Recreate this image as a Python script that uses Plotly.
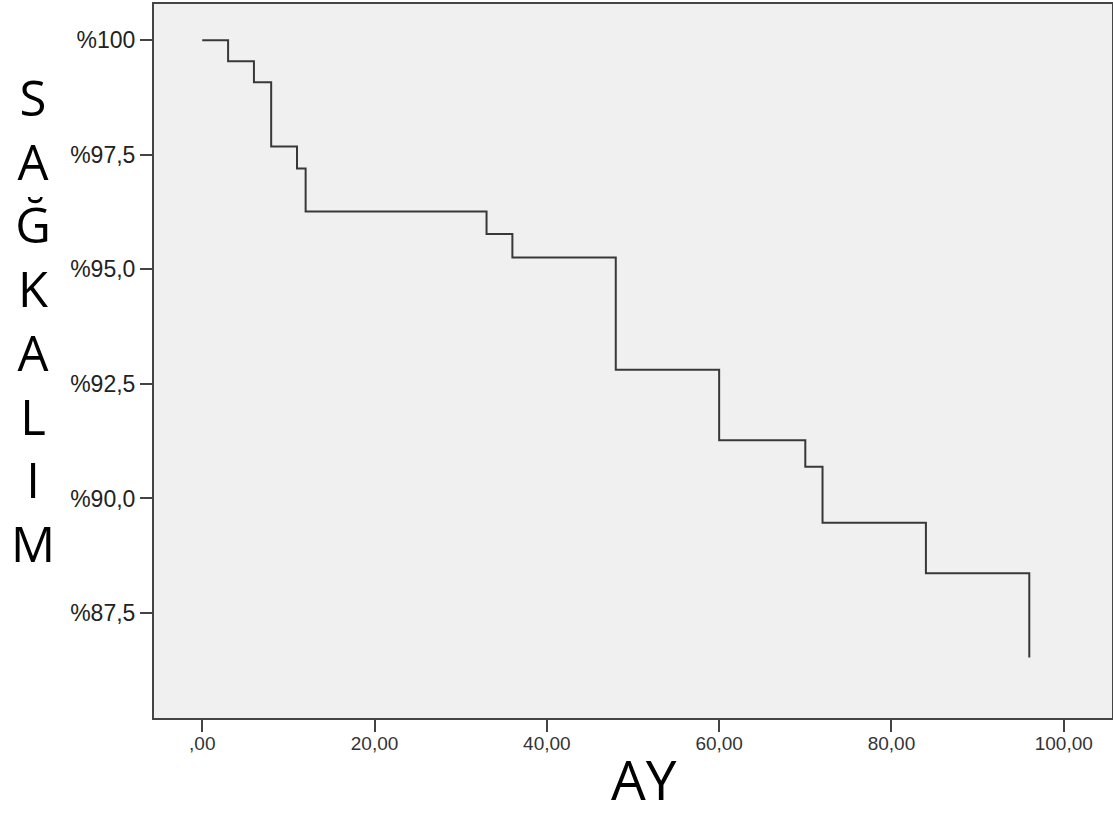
import plotly.graph_objects as go

# Kaplan-Meier step data (months, survival %)
months = [0, 3, 6, 8, 11, 12, 33, 36, 48, 60, 70, 72, 84, 96]
survival = [100, 99.54, 99.08, 97.68, 97.20, 96.26, 95.77, 95.26, 92.81, 91.27, 90.69, 89.47, 88.37, 86.53]

x_tick_vals = [0, 20, 40, 60, 80, 100]
x_tick_text = [",00", "20,00", "40,00", "60,00", "80,00", "100,00"]
y_tick_vals = [100, 97.5, 95.0, 92.5, 90.0, 87.5]
y_tick_text = ["%100", "%97,5", "%95,0", "%92,5", "%90,0", "%87,5"]

y_label_letters = ["S", "A", "Ğ", "K", "A", "L", "I", "M"]
x_label = "AY"

W, H = 1113, 817
ML, MR, MT, MB = 154, 1, 4, 99
plot_h = H - MT - MB
plot_w = W - ML - MR

def py_to_paper(py):
    return (H - MB - py) / plot_h

def px_to_paper(px):
    return (px - ML) / plot_w

fig = go.Figure()
fig.add_trace(go.Scatter(
    x=months, y=survival, mode="lines", line_shape="hv",
    line=dict(color="#383838", width=2), showlegend=False, hoverinfo="x+y",
))

annotations = [
    dict(
        text="<br>".join(y_label_letters), xref="paper", yref="paper",
        x=px_to_paper(33), y=py_to_paper(319.5),
        xanchor="center", yanchor="middle", align="center", showarrow=False,
        font=dict(family="Open Sans", size=49, color="#000000"),
    ),
    dict(
        text=x_label, xref="paper", yref="paper",
        x=px_to_paper(644), y=py_to_paper(818),
        xanchor="center", yanchor="bottom", showarrow=False,
        font=dict(family="Open Sans", size=55, color="#000000"),
    ),
]

fig.update_layout(
    width=W, height=H,
    margin=dict(l=ML, r=MR, t=MT, b=MB, pad=0),
    paper_bgcolor="#ffffff", plot_bgcolor="#f0f0f0",
    annotations=annotations,
    xaxis=dict(
        range=[-5.6, 105.6], tickmode="array", tickvals=x_tick_vals, ticktext=x_tick_text,
        showgrid=False, zeroline=False, showline=True, linecolor="#444444", linewidth=2,
        mirror=True, ticks="outside", ticklen=12, tickwidth=2, tickcolor="#444444",
        ticklabelstandoff=-5, automargin=False,
        tickfont=dict(family="Liberation Sans", size=19, color="#333333"),
    ),
    yaxis=dict(
        range=[85.21, 100.79], tickmode="array", tickvals=y_tick_vals, ticktext=y_tick_text,
        showgrid=False, zeroline=False, showline=True, linecolor="#444444", linewidth=2,
        mirror=True, ticks="outside", ticklen=12, tickwidth=2, tickcolor="#444444",
        automargin=False,
        tickfont=dict(family="Liberation Sans", size=23, color="#222222"),
    ),
)

fig.write_html(
    "out.html",
    config={"displayModeBar": False},
    post_script="document.body.style.margin='0';document.body.style.overflow='hidden';",
)
